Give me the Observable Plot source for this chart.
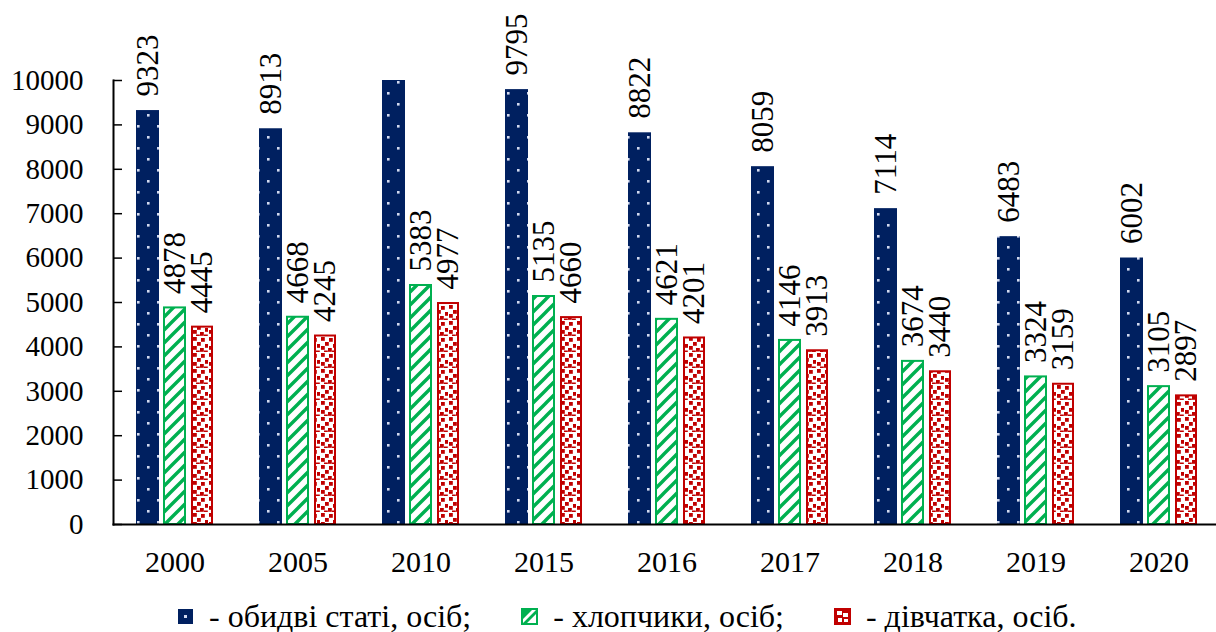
<!DOCTYPE html>
<html>
<head>
<meta charset="utf-8">
<script src="https://cdn.jsdelivr.net/npm/d3@7"></script>
<script src="https://cdn.jsdelivr.net/npm/@observablehq/plot@0.6"></script>
<style>
  html, body { margin: 0; padding: 0; background: #fff; }
  body { width: 1216px; height: 632px; overflow: hidden; position: relative; font-family: "Liberation Serif", "DejaVu Serif", serif; }
  #legend { position: absolute; top: 598px; left: 177px; display: flex; align-items: center; font-size: 32px; color: #000; white-space: nowrap; font-family: "Liberation Serif", "DejaVu Serif", serif; }
  .item { display: flex; align-items: center; margin-right: 50px; }
  .item svg { margin-right: 15px; }
  svg text { font-family: "Liberation Serif", "DejaVu Serif", serif; }
</style>
</head>
<body>
<div id="chart"></div>
<div id="legend"></div>
<script>
const years = ["2000", "2005", "2010", "2015", "2016", "2017", "2018", "2019", "2020"];
const totalValues = [9323, 8913, 10360, 9795, 8822, 8059, 7114, 6483, 6002];
const boysValues = [4878, 4668, 5383, 5135, 4621, 4146, 3674, 3324, 3105];
const girlsValues = [4445, 4245, 4977, 4660, 4201, 3913, 3440, 3159, 2897];
const seriesNames = ["- обидві статі, осіб;", "- хлопчики, осіб;", "- дівчатка, осіб."];
const yTicks = [0, 1000, 2000, 3000, 4000, 5000, 6000, 7000, 8000, 9000, 10000];

const serif = "Liberation Serif, DejaVu Serif, serif";
const rows = (vals) => years.map((year, i) => ({year, value: vals[i]}));
const total = rows(totalValues);
const boys = rows(boysValues);
const girls = rows(girlsValues);

const labelOpts = (dx) => ({
  x: "year", y: "value", text: d => String(d.value),
  rotate: -90, textAnchor: "start", lineAnchor: "middle",
  dy: -14, dx, fontSize: 31, fontFamily: serif, fill: "#000",
  filter: d => d.value <= 10000
});

const chart = Plot.plot({
  width: 1216,
  height: 590,
  marginTop: 80,
  marginBottom: 66,
  marginLeft: 113,
  marginRight: 0,
  style: {fontFamily: serif, fontSize: "28px", color: "#000", background: "#fff", overflow: "visible"},
  x: {type: "band", domain: years, range: [113, 1220], padding: 0},
  y: {domain: [0, 10000]},
  marks: [
    Plot.barY(total, {x: "year", y: "value", fill: "url(#pNavy)", insetLeft: 23, insetRight: 77, clip: true}),
    Plot.barY(boys, {x: "year", y: "value", fill: "url(#pGreen)", stroke: "#00b050", strokeWidth: 2, insetLeft: 51, insetRight: 51, clip: true}),
    Plot.barY(girls, {x: "year", y: "value", fill: "url(#pRed)", stroke: "#c00000", strokeWidth: 2, insetLeft: 79, insetRight: 24, clip: true}),
    Plot.text(total, labelOpts(-27)),
    Plot.text(boys, labelOpts(0)),
    Plot.text(girls, labelOpts(27.5)),
    Plot.frame({anchor: "left", stroke: "#000", strokeWidth: 2}),
    Plot.frame({anchor: "bottom", stroke: "#000", strokeWidth: 2}),
    Plot.axisY({ticks: yTicks, tickSize: -9, tickPadding: 39, tickFormat: "d", label: null, strokeWidth: 1.5, fontSize: 29, fontFamily: serif}),
    Plot.axisX({tickSize: 0, tickPadding: 26, label: null, fontSize: 30, fontFamily: serif})
  ]
});

function addPatterns(svg, prefix) {
  const defs = d3.select(svg).insert("defs", ":first-child");
  const pn = defs.append("pattern").attr("id", prefix + "Navy").attr("patternUnits", "userSpaceOnUse")
    .attr("width", 20).attr("height", 22);
  pn.append("rect").attr("width", 20).attr("height", 22).attr("fill", "#002060");
  pn.append("rect").attr("x", 7).attr("y", 4).attr("width", 2.6).attr("height", 2.6).attr("fill", "#d3daf0");
  pn.append("rect").attr("x", 17).attr("y", 15).attr("width", 2.6).attr("height", 2.6).attr("fill", "#d3daf0");

  const pg = defs.append("pattern").attr("id", prefix + "Green").attr("patternUnits", "userSpaceOnUse")
    .attr("width", 13).attr("height", 13);
  pg.append("rect").attr("width", 13).attr("height", 13).attr("fill", "#fff");
  pg.append("path").attr("d", "M-2,15 L15,-2 M-4,4 L4,-4 M9,17 L17,9")
    .attr("stroke", "#00b050").attr("stroke-width", 3.4);

  const pr = defs.append("pattern").attr("id", prefix + "Red").attr("patternUnits", "userSpaceOnUse")
    .attr("width", 16).attr("height", 16);
  pr.append("rect").attr("width", 16).attr("height", 16).attr("fill", "#fff");
  [[1, 1], [9, 2], [5, 6], [13, 8], [1, 10], [8, 12], [12, 14.5], [4, 14.5]].forEach(([x, y]) => {
    pr.append("rect").attr("x", x).attr("y", y).attr("width", 3.8).attr("height", 3.8).attr("fill", "#c00000");
  });
}
addPatterns(chart, "p");
document.getElementById("chart").appendChild(chart);

// Legend
const legend = d3.select("#legend");
const swatches = [
  {fill: "#002060", stroke: "none", draw: g => g.append("rect").attr("x", 7).attr("y", 7).attr("width", 3).attr("height", 3).attr("fill", "#d3daf0")},
  {fill: "#fff", stroke: "#00b050", draw: g => g.append("path").attr("d", "M2,15 L15,2 L15,6 L6,15 Z M2,11 L11,2 L2,2 Z").attr("fill", "#00b050")},
  {fill: "#c00000", stroke: "#c00000", draw: g => {
    [[3, 3, 5, 4], [9, 5, 5, 4], [4, 10, 4, 4], [10, 11, 4, 3]].forEach(([x, y, w, h]) =>
      g.append("rect").attr("x", x).attr("y", y).attr("width", w).attr("height", h).attr("fill", "#fff"));
  }}
];
seriesNames.forEach((name, i) => {
  const item = legend.append("div").attr("class", "item");
  const s = item.append("svg").attr("width", 17).attr("height", 17);
  s.append("rect").attr("x", 1).attr("y", 1).attr("width", 15).attr("height", 15)
    .attr("fill", swatches[i].fill).attr("stroke", swatches[i].stroke).attr("stroke-width", 2);
  swatches[i].draw(s);
  item.append("span").text(name);
});
</script>
</body>
</html>
